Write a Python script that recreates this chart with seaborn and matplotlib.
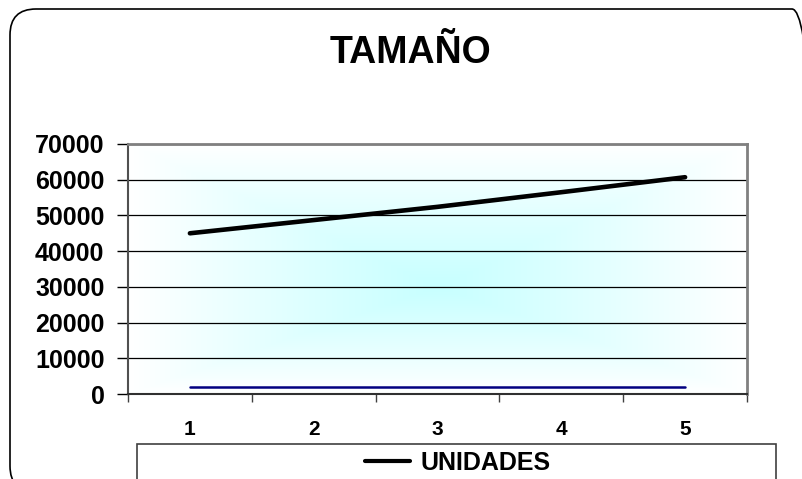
import numpy as np
import pandas as pd
import matplotlib
matplotlib.use("Agg")
import matplotlib.pyplot as plt
from matplotlib.patches import FancyBboxPatch, Rectangle
from matplotlib.transforms import IdentityTransform
import seaborn as sns

# Datos del gráfico
periodos = [1, 2, 3, 4, 5]
unidades = [45000, 48700, 52400, 56500, 60700]
serie_base = [2000, 2000, 2000, 2000, 2000]
titulo = "TAMAÑO"
y_ticks = [0, 10000, 20000, 30000, 40000, 50000, 60000, 70000]

sns.set_style("white")
plt.rcParams["font.family"] = ["Liberation Sans", "DejaVu Sans"]
plt.rcParams["font.weight"] = "bold"
plt.rcParams["text.color"] = "black"
plt.rcParams["xtick.labelcolor"] = "black"
plt.rcParams["ytick.labelcolor"] = "black"

W, H = 802, 479
fig = plt.figure(figsize=(W / 100, H / 100), dpi=100)
fig.patch.set_facecolor("white")


def fx(x):
    return x / W


def fy(y):
    return 1 - y / H


# Marco redondeado exterior (en píxeles, origen abajo a la izquierda)
frame = FancyBboxPatch((10, H - 492), 808, 483,
                       boxstyle="round,pad=0,rounding_size=26",
                       transform=IdentityTransform(), fill=False,
                       edgecolor="black", linewidth=1.2)
fig.add_artist(frame)

ax = fig.add_axes([fx(128), fy(394), fx(747) - fx(128), (394 - 144) / H])

# Fondo degradado desde el centro del área de trazado
n = 300
gx, gy = np.meshgrid(np.linspace(-1, 1, n), np.linspace(-1, 1, n))
gy = np.where(gy > -0.15, (gy + 0.15) / 1.15, (gy + 0.15) / 0.85)
t = np.clip(np.maximum(np.abs(gx), np.abs(gy)), 0, 1) ** 1.1
centro = np.array([200, 255, 255]) / 255
borde = np.array([255, 255, 255]) / 255
img = centro[None, None, :] * (1 - t[..., None]) + borde[None, None, :] * t[..., None]
ax.imshow(img, extent=[0.5, 5.5, 0, 70000], aspect="auto", zorder=0.2,
          interpolation="bilinear", origin="lower")

df = pd.DataFrame({"periodo": periodos, "UNIDADES": unidades, "base": serie_base})
sns.lineplot(data=df, x="periodo", y="UNIDADES", ax=ax, color="black",
             linewidth=3.3, label="UNIDADES", zorder=3)
sns.lineplot(data=df, x="periodo", y="base", ax=ax, color="#000080",
             linewidth=1.8, legend=False, zorder=3)

handles, labels = ax.get_legend_handles_labels()
if ax.get_legend() is not None:
    ax.get_legend().remove()

ax.set_xlim(0.5, 5.5)
ax.set_ylim(0, 70000)
ax.set_yticks(y_ticks)
ax.set_yticklabels([str(v) for v in y_ticks], fontsize=18, fontweight="bold")
ax.set_xticks(np.arange(0.5, 6.0, 1.0))
ax.set_xticklabels([])
ax.set_xticks(periodos, minor=True)
ax.set_xticklabels([str(p) for p in periodos], minor=True, fontsize=15,
                   fontweight="bold")
ax.tick_params(axis="x", which="major", direction="out", length=6, width=1,
               color="#404040", bottom=True)
ax.tick_params(axis="x", which="minor", length=0, pad=19)
ax.tick_params(axis="y", direction="out", length=8, width=1, color="black",
               left=True, pad=9)
ax.set_xlabel("")
ax.set_ylabel("")

ax.set_axisbelow(True)
ax.yaxis.grid(True, color="black", linewidth=0.9, zorder=0.5)
ax.xaxis.grid(False)

for side, col, lw in [("left", "#505050", 1.5), ("bottom", "#303030", 1.5),
                      ("top", "#808080", 2.0), ("right", "#808080", 2.0)]:
    ax.spines[side].set_visible(True)
    ax.spines[side].set_color(col)
    ax.spines[side].set_linewidth(lw)

fig.text(fx(411), fy(53), titulo, ha="center", va="center",
         fontsize=27, fontweight="bold", color="black")

# Caja de la leyenda bajo el eje
caja = Rectangle((fx(137), fy(495)), fx(776) - fx(137), (495 - 444) / H,
                 transform=fig.transFigure, fill=True, facecolor="white",
                 edgecolor="#404040", linewidth=1.2, zorder=-1)
fig.add_artist(caja)
leg = fig.legend(handles, labels, loc="center", frameon=False,
                 bbox_to_anchor=(fx(458), fy(463)),
                 bbox_transform=fig.transFigure,
                 handlelength=1.8, handletextpad=0.4,
                 prop={"weight": "bold", "size": 18})
leg.set_zorder(5)
for line in leg.get_lines():
    line.set_linewidth(3.0)

fig.savefig("out.png", dpi=100)
